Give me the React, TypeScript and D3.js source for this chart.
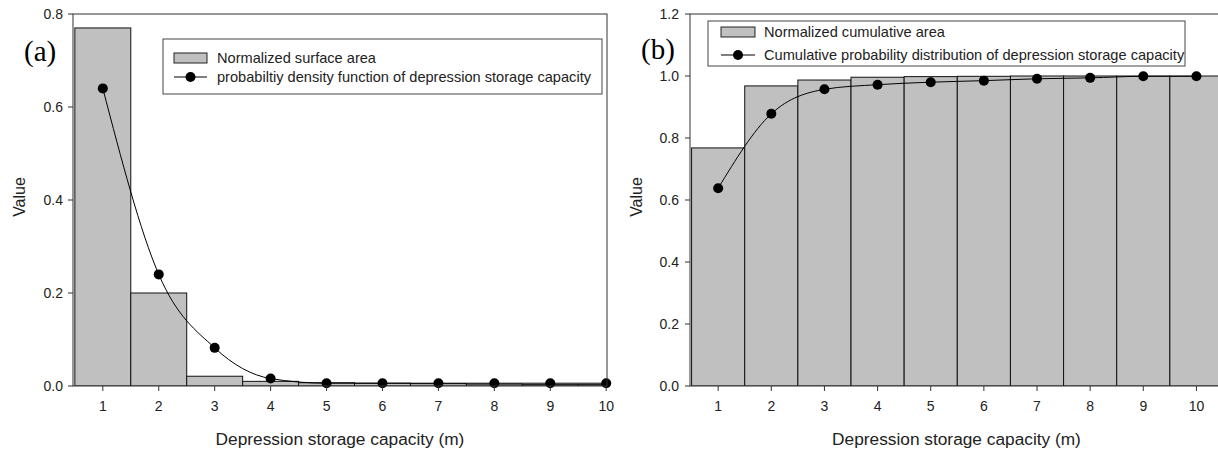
import React from "react";
import * as d3 from "d3";

const categories = [1, 2, 3, 4, 5, 6, 7, 8, 9, 10];
const surfaceArea = [0.77, 0.2, 0.021, 0.01, 0.007, 0.006, 0.005, 0.004, 0.003, 0.003];
const pdfValues = [0.64, 0.24, 0.082, 0.016, 0.006, 0.006, 0.006, 0.006, 0.006, 0.006];
const cumulativeArea = [0.768, 0.968, 0.987, 0.996, 0.998, 0.999, 1.0, 1.0, 1.0, 1.0];
const cdfValues = [0.638, 0.878, 0.957, 0.972, 0.98, 0.985, 0.991, 0.994, 0.999, 0.999];
const leftYTicks = [0, 0.2, 0.4, 0.6, 0.8];
const rightYTicks = [0, 0.2, 0.4, 0.6, 0.8, 1.0, 1.2];
const xTitle = "Depression storage capacity (m)";
const yTitle = "Value";
const leftLegend = ["Normalized surface area", "probabiltiy density function of depression storage capacity"];
const rightLegend = ["Normalized cumulative area", "Cumulative probability distribution of depression storage capacity"];

const SANS = "'Liberation Sans', Arial, sans-serif";
const SERIF = "'Liberation Serif', 'Times New Roman', serif";

type PanelProps = {
  x0: number; x1: number; y0: number; y1: number;
  xDomain: [number, number]; yMax: number; yTicks: number[];
  bars: number[]; points: number[]; legend: string[];
  label: string; labelX: number; labelY: number;
  legBox: { x: number; y: number; w: number; h: number };
  row1: number; row2: number; symX0: number; symX1: number; textX: number;
  yLabelX: number; tickLabelEnd: number;
};

function Panel(p: PanelProps) {
  const x = d3.scaleLinear().domain(p.xDomain).range([p.x0, p.x1]);
  const y = d3.scaleLinear().domain([0, p.yMax]).range([p.y1, p.y0]);
  const line = d3
    .line<number>()
    .x((_, i) => x(categories[i]))
    .y((d) => y(d))
    .curve(d3.curveMonotoneX);
  const clipId = "clip" + p.label.replace(/[()]/g, "");
  return (
    <g>
      <defs>
        <clipPath id={clipId}>
          <rect x={p.x0} y={p.y0} width={p.x1 - p.x0} height={p.y1 - p.y0} />
        </clipPath>
      </defs>
      <g clipPath={`url(#${clipId})`}>
        {p.bars.map((v, i) => {
          const xl = x(categories[i] - 0.5);
          const xr = x(categories[i] + 0.5);
          return (
            <rect key={i} x={xl} y={y(v)} width={xr - xl} height={y(0) - y(v)}
              fill="#c0c0c0" stroke="#111" strokeWidth={1} />
          );
        })}
      </g>
      <path d={line(p.points) || ""} fill="none" stroke="#000" strokeWidth={1} />
      {p.points.map((v, i) => (
        <circle key={i} cx={x(categories[i])} cy={y(v)} r={5} fill="#000" />
      ))}
      <rect x={p.x0} y={p.y0} width={p.x1 - p.x0} height={p.y1 - p.y0} fill="none" stroke="#333" strokeWidth={1} />
      {p.yTicks.map((t) => (
        <g key={t}>
          <line x1={p.x0 - 5} x2={p.x0} y1={y(t)} y2={y(t)} stroke="#333" />
          <text x={p.tickLabelEnd} y={y(t)} dy="0.36em" textAnchor="end" fontSize={14} fontFamily={SANS} fill="#222">
            {d3.format(".1f")(t)}
          </text>
        </g>
      ))}
      {categories.map((c) => (
        <g key={c}>
          <line x1={x(c)} x2={x(c)} y1={p.y1} y2={p.y1 + 5} stroke="#333" />
          <text x={x(c)} y={p.y1 + 25} textAnchor="middle" fontSize={14} fontFamily={SANS} fill="#222">
            {c}
          </text>
        </g>
      ))}
      <text x={(p.x0 + p.x1) / 2} y={445} textAnchor="middle" fontSize={17.3} fontFamily={SANS} fill="#222">
        {xTitle}
      </text>
      <text transform={`translate(${p.yLabelX},197) rotate(-90)`} textAnchor="middle" fontSize={16} fontFamily={SANS} fill="#222">
        {yTitle}
      </text>
      <rect x={p.legBox.x} y={p.legBox.y} width={p.legBox.w} height={p.legBox.h} fill="#fff" stroke="#444" strokeWidth={1} />
      <rect x={p.symX0} y={p.row1 - 5} width={p.symX1 - p.symX0} height={10} fill="#c0c0c0" stroke="#222" />
      <text x={p.textX} y={p.row1} dy="0.36em" fontSize={14.6} fontFamily={SANS} fill="#222">{p.legend[0]}</text>
      <line x1={p.symX0} x2={p.symX1} y1={p.row2} y2={p.row2} stroke="#000" />
      <circle cx={(p.symX0 + p.symX1) / 2} cy={p.row2} r={5} fill="#000" />
      <text x={p.textX} y={p.row2} dy="0.36em" fontSize={14.6} fontFamily={SANS} fill="#222">{p.legend[1]}</text>
      <text x={p.labelX} y={p.labelY} fontSize={29} fontFamily={SERIF} fill="#000">{p.label}</text>
    </g>
  );
}

export default function App() {
  return (
    <svg width={1218} height={453} style={{ position: "absolute", left: 0, top: 0, background: "#fff" }}>
      <rect width={1218} height={453} fill="#fff" />
      <Panel
        x0={73} x1={607} y0={14} y1={386}
        xDomain={[0.467, 10.014]} yMax={0.8} yTicks={leftYTicks}
        bars={surfaceArea} points={pdfValues} legend={leftLegend}
        label="(a)" labelX={24} labelY={61}
        legBox={{ x: 163, y: 39, w: 439, h: 55 }}
        row1={58} row2={77} symX0={174} symX1={207} textX={217}
        yLabelX={25} tickLabelEnd={63}
      />
      <Panel
        x0={690} x1={1223} y0={14} y1={386}
        xDomain={[0.47, 10.5]} yMax={1.2} yTicks={rightYTicks}
        bars={cumulativeArea} points={cdfValues} legend={rightLegend}
        label="(b)" labelX={641} labelY={59}
        legBox={{ x: 708, y: 21, w: 477, h: 45 }}
        row1={32} row2={55} symX0={721} symX1={755} textX={764}
        yLabelX={642} tickLabelEnd={679}
      />
    </svg>
  );
}
